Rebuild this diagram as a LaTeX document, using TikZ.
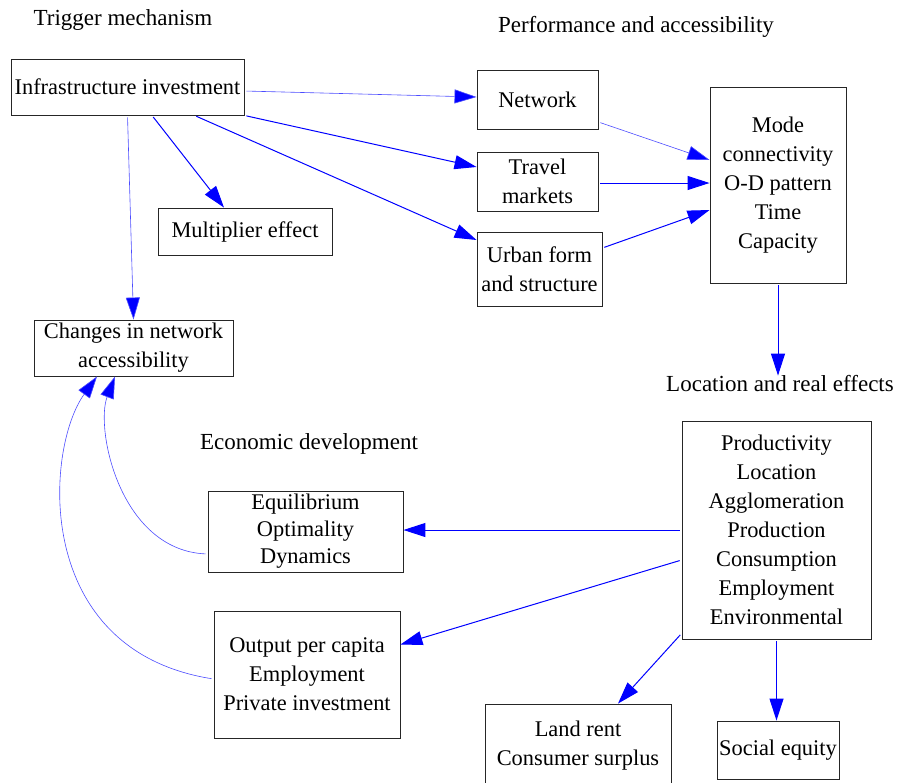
\documentclass[tikz,border=0pt]{standalone}
\usepackage{fontspec}
\setmainfont{Liberation Serif}
\usetikzlibrary{arrows.meta,calc}
\begin{document}
\begin{tikzpicture}[x=1pt,y=-1pt,
  every node/.style={font=\fontsize{22.4}{29}\selectfont},
  box/.style={draw=black!85,line width=0.9pt,rectangle,align=center,inner sep=0pt},
  lbl/.style={inner sep=0pt,font=\fontsize{23}{29}\selectfont},
  arr/.style={draw=blue,line width=1pt,shorten <=2pt,-{Triangle[length=22pt,width=14pt]}},
  thin/.style={draw=blue!70,line width=0.6pt,shorten <=2pt,-{Triangle[length=22pt,width=14pt,fill=blue]}}]
\useasboundingbox (0,0) rectangle (897,782);
% nodes
\node[box,minimum width=233pt,minimum height=56pt] (infra) at (127.5,87) {Infrastructure investment};
\node[box,minimum width=174pt,minimum height=47pt] (mult) at (245,231.5) {Multiplier effect};
\node[box,minimum width=121pt,minimum height=59pt] (network) at (537.5,99.5) {Network};
\node[box,minimum width=121pt,minimum height=59pt] (travel) at (537.5,181.5) {Travel\\markets};
\node[box,minimum width=125pt,minimum height=74pt] (urban) at (539.5,269) {Urban form\\and structure};
\node[box,minimum width=136pt,minimum height=196pt] (mode) at (778,185) {Mode\\connectivity\\O-D pattern\\Time\\Capacity};
\node[box,minimum width=199pt,minimum height=56pt] (changes) at (133.5,348) {Changes in network\\accessibility};
\node[box,minimum width=195pt,minimum height=81pt] (equil) at (305.5,531.5) {Equilibrium\\[-2pt]Optimality\\[-2pt]Dynamics};
\node[box,minimum width=186pt,minimum height=127pt] (output) at (307,674.5) {Output per capita\\Employment\\Private investment};
\node[box,minimum width=189pt,minimum height=218pt] (prod) at (776.5,530) {Productivity\\Location\\Agglomeration\\Production\\Consumption\\Employment\\Environmental};
\node[box,minimum width=186pt,minimum height=84pt] (land) at (578,746) {Land rent\\Consumer surplus};
\node[box,minimum width=122pt,minimum height=58pt] (social) at (778,750) {Social equity};
% labels
\node[lbl] (trig) at (123,20) {Trigger mechanism};
\node[lbl] (perf) at (636,27) {Performance and accessibility};
\node[lbl] (loc) at (780,384) {Location and real effects};
\node[lbl] (econ) at (309,444) {Economic development};
% connectors
\draw[thin] ([yshift=-4pt]infra.east) -- ([yshift=2.5pt]network.west);
\draw[arr] (infra.south east) -- ([yshift=14.5pt]travel.west);
\draw[arr] ([xshift=67pt]infra.south) -- ([yshift=29pt]urban.west);
\draw[arr] ([xshift=24.5pt]infra.south) -- ([xshift=-21pt]mult.north);
\draw[thin] (infra.south) -- (changes.north);
\draw[thin] ([yshift=-22.5pt]network.east) -- ([yshift=25pt]mode.west);
\draw[arr] ([yshift=-1.5pt]travel.east) -- ([yshift=-1.5pt]travel.east -| mode.west);
\draw[arr] ([yshift=21pt]urban.east) -- ([yshift=-25pt]mode.west);
\draw[arr] (mode.south) -- (loc.north -| mode.south);
\draw[arr] (prod.west) -- (prod.west -| equil.east);
\draw[arr] ([yshift=-30pt]prod.west) -- ([yshift=30pt]output.east);
\draw[arr] ([yshift=6pt]prod.south west) -- ([xshift=40pt]land.north);
\draw[arr] (prod.south) -- (prod.south |- social.north);
\draw[thin] ([yshift=-22.5pt]equil.west) .. controls +(-88,-4) and +(-20,52) .. ([xshift=-18.5pt]changes.south);
\draw[thin] ([yshift=-4.5pt]output.west) .. controls +(-182,-29) and +(-52,72) .. ([xshift=-36.5pt]changes.south);
\end{tikzpicture}
\end{document}
